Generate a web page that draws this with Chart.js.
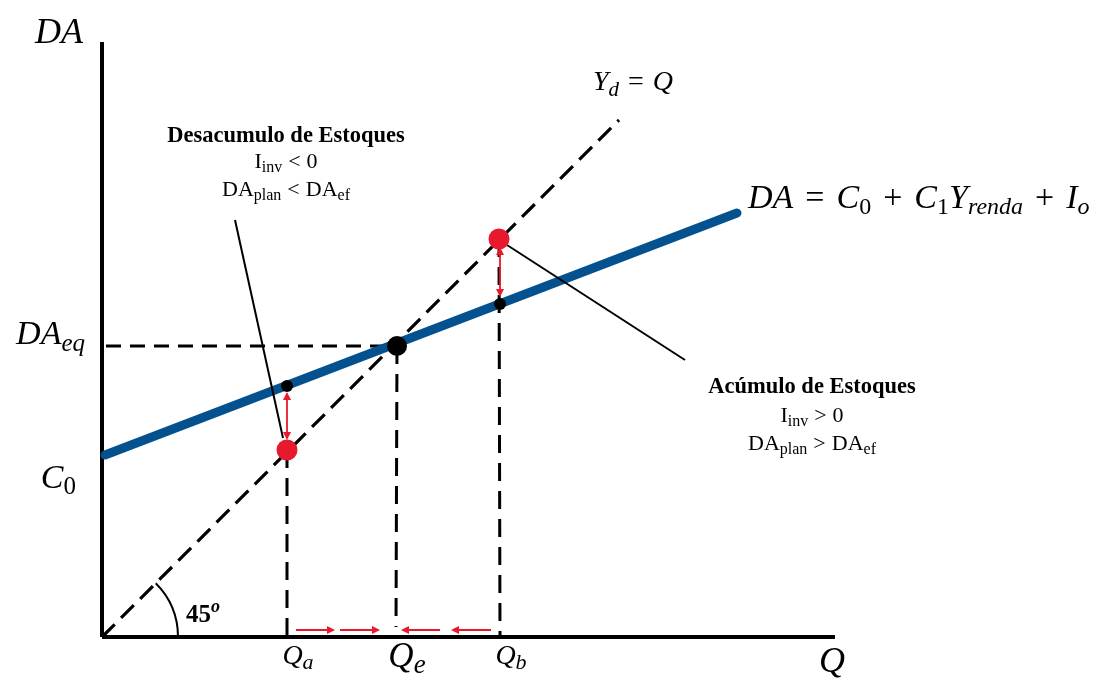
<!DOCTYPE html>
<html lang="pt">
<head>
<meta charset="UTF-8" />
<title>Cruz keynesiana</title>
<script src="https://cdn.jsdelivr.net/npm/chart.js"></script>
<style>
  body { margin: 0; background: #fff; }
  canvas { display: block; }
</style>
</head>
<body>
<canvas id="cruz" width="1109" height="679"></canvas>
<script>
// eixos (unidades do gráfico)
const qMax = 733;
const daMax = 595;

// valores lidos no diagrama
const qValues = [185, 294, 398];            // Qa, Qe, Qb
const qLabels = [["Q", "a"], ["Q", "e"], ["Q", "b"]];
const line45 = [[0, 0], [517, 517]];         // Yd = Q
const daLine = [[3, 182], [635, 424]];       // DA = C0 + C1 Y + I0
const c0Value = 182;
const daEqValue = 291;
const redPoints = [[185, 187], [397, 398]];
const planPoints = [[185, 251], [398, 333]];
const eqPoint = [295, 291];

// linhas de chamada para os textos
const calloutA = [[133, 417], [181, 199]];
const calloutB = [[405, 392], [583, 277]];

// setas vermelhas: [x1, y1, x2, y2, duas pontas]
const redArrows = [
  [185, 245, 185, 197, true],
  [398, 390, 398, 340, true],
  [194, 7, 233, 7, false],
  [238, 7, 278, 7, false],
  [338, 7, 299, 7, false],
  [389, 7, 349, 7, false]
];

const pts = arr => arr.map(p => ({ x: p[0], y: p[1] }));

const BLUE = "#03528f";
const RED = "#e8192c";
const SERIF = "'Liberation Serif', 'DejaVu Serif', serif";

function line(data, opts) {
  return Object.assign({
    data: pts(data), showLine: true, pointRadius: 0, borderColor: "#000",
    borderWidth: 3, fill: false, clip: false
  }, opts);
}

// o primeiro conjunto fica por cima
const datasets = [
  { data: pts(redPoints), showLine: false, pointRadius: 10.5, pointBackgroundColor: RED,
    pointBorderWidth: 0, clip: false },
  { data: pts([eqPoint]), showLine: false, pointRadius: 10, pointBackgroundColor: "#000",
    pointBorderWidth: 0, clip: false },
  { data: pts(planPoints), showLine: false, pointRadius: 6, pointBackgroundColor: "#000",
    pointBorderWidth: 0, clip: false },
  line(calloutA, { borderWidth: 2 }),
  line(calloutB, { borderWidth: 2 }),
  line(daLine, { borderColor: BLUE, borderWidth: 9, borderCapStyle: "round" }),
  line(line45, { borderWidth: 3.2, borderDash: [18, 9] }),
  line([[4, daEqValue], [eqPoint[0], daEqValue]], { borderDash: [15, 9] }),
  line([redPoints[0], [qValues[0], 0]], { borderDash: [18, 10] }),
  line([eqPoint, [qValues[1], 10]], { borderDash: [18, 10] }),
  line([redPoints[1], [qValues[2], 0]], { borderDash: [18, 10] }),
  line([[0, 0], [qMax, 0]], { borderWidth: 4 }),
  line([[0, 0], [0, daMax]], { borderWidth: 4 })
];

// texto com subíndice/índice: partes [texto, fonte, deslocamento vertical, folga]
function rich(ctx, parts, x, y, align) {
  let w = 0;
  parts.forEach(p => { ctx.font = p[1]; w += ctx.measureText(p[0]).width + (p[3] || 0); });
  let cx = align === "center" ? x - w / 2 : align === "right" ? x - w : x;
  ctx.textBaseline = "alphabetic";
  ctx.textAlign = "left";
  parts.forEach(p => {
    ctx.font = p[1];
    const pad = (p[3] || 0) / 2;
    ctx.fillText(p[0], cx + pad, y + (p[2] || 0));
    cx += ctx.measureText(p[0]).width + 2 * pad;
  });
}

function arrowHead(ctx, x, y, ang) {
  const L = 8, W = 4;
  ctx.beginPath();
  ctx.moveTo(x, y);
  ctx.lineTo(x - L * Math.cos(ang) + W * Math.sin(ang), y - L * Math.sin(ang) - W * Math.cos(ang));
  ctx.lineTo(x - L * Math.cos(ang) - W * Math.sin(ang), y - L * Math.sin(ang) + W * Math.cos(ang));
  ctx.closePath();
  ctx.fill();
}

const annotations = {
  id: "annotations",
  afterDatasetsDraw(chart) {
    const ctx = chart.ctx;
    const xs = chart.scales.x, ys = chart.scales.y;
    const X = v => xs.getPixelForValue(v), Y = v => ys.getPixelForValue(v);

    ctx.save();
    // setas vermelhas
    ctx.strokeStyle = RED;
    ctx.fillStyle = RED;
    ctx.lineWidth = 1.8;
    redArrows.forEach(a => {
      const x1 = X(a[0]), y1 = Y(a[1]), x2 = X(a[2]), y2 = Y(a[3]);
      const ang = Math.atan2(y2 - y1, x2 - x1);
      ctx.beginPath();
      ctx.moveTo(x1 + (a[4] ? 6 * Math.cos(ang) : 0), y1 + (a[4] ? 6 * Math.sin(ang) : 0));
      ctx.lineTo(x2 - 6 * Math.cos(ang), y2 - 6 * Math.sin(ang));
      ctx.stroke();
      arrowHead(ctx, x2, y2, ang);
      if (a[4]) arrowHead(ctx, x1, y1, ang + Math.PI);
    });

    // arco de 45 graus
    ctx.strokeStyle = "#000";
    ctx.lineWidth = 2;
    ctx.beginPath();
    ctx.arc(X(0), Y(0), 76, -Math.PI / 4, 0);
    ctx.stroke();

    ctx.fillStyle = "#000";
    const it = s => `italic ${s}px ${SERIF}`;
    const rg = s => `${s}px ${SERIF}`;
    const bd = s => `bold ${s}px ${SERIF}`;

    // títulos dos eixos
    rich(ctx, [["DA", it(36)]], X(0) - 67, Y(daMax) + 1, "left");
    rich(ctx, [["Q", it(36)]], X(qMax) - 16, 672, "left");

    // marcas no eixo Q
    qValues.forEach((q, i) => {
      const big = i === 1;
      rich(ctx, [[qLabels[i][0], it(big ? 35 : 28)], [qLabels[i][1], it(big ? 27 : 22), big ? 6 : 5]],
        X(q) + 11, big ? 667 : 664, "center");
    });

    // marcas no eixo DA
    rich(ctx, [["DA", it(34)], ["eq", it(25), 7]], X(0) - 17, Y(daEqValue) - 2, "right");
    rich(ctx, [["C", it(34)], ["0", rg(25), 6]], X(0) - 26, Y(c0Value) + 33, "right");

    // 45º
    rich(ctx, [["45", bd(25)], ["o", `bold italic 18px ${SERIF}`, -10]], X(0) + 84, Y(0) - 15, "left");

    // rótulos das retas
    rich(ctx, [["Y", it(28)], ["d", it(21), 6], ["=", rg(28), 0, 18], ["Q", it(28)]], 593, 90, "left");
    rich(ctx, [["DA", it(34)], ["=", rg(34), 0, 24], ["C", it(34)], ["0", rg(24), 6], ["+", rg(34), 0, 24],
      ["C", it(34)], ["1", rg(24), 6], ["Y", it(34)], ["renda", it(24), 6], ["+", rg(34), 0, 24],
      ["I", it(34)], ["o", it(24), 6]], 748, 208, "left");

    // caixas de texto
    const t = 22, s = 16;
    rich(ctx, [["Desacumulo de Estoques", bd(22.5)]], 286, 142, "center");
    rich(ctx, [["I", rg(t)], ["inv", rg(s), 4], ["<", rg(t), 0, 12], ["0", rg(t)]], 286, 168, "center");
    rich(ctx, [["DA", rg(t)], ["plan", rg(s), 4], ["<", rg(t), 0, 12], ["DA", rg(t)], ["ef", rg(s), 4]], 286, 196, "center");

    rich(ctx, [["Acúmulo de Estoques", bd(22.5)]], 812, 393, "center");
    rich(ctx, [["I", rg(t)], ["inv", rg(s), 4], [">", rg(t), 0, 12], ["0", rg(t)]], 812, 422, "center");
    rich(ctx, [["DA", rg(t)], ["plan", rg(s), 4], [">", rg(t), 0, 12], ["DA", rg(t)], ["ef", rg(s), 4]], 812, 450, "center");
    ctx.restore();
  }
};

new Chart(document.getElementById("cruz"), {
  type: "scatter",
  data: { datasets },
  options: {
    responsive: false,
    animation: false,
    devicePixelRatio: 1,
    layout: { padding: { left: 102, right: 274, top: 42, bottom: 42 } },
    scales: {
      x: { type: "linear", min: 0, max: qMax, display: false },
      y: { type: "linear", min: 0, max: daMax, display: false }
    },
    plugins: { legend: { display: false }, tooltip: { enabled: false } }
  },
  plugins: [annotations]
});
</script>
</body>
</html>
